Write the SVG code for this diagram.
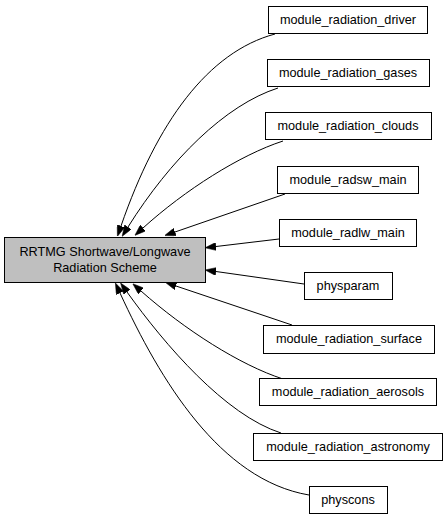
<svg xmlns="http://www.w3.org/2000/svg" width="448" height="520" viewBox="0 0 448 520">
<defs>
<marker id="ah" markerUnits="userSpaceOnUse" markerWidth="11" markerHeight="8" refX="0" refY="4" orient="auto">
<path d="M0,0 L11,4 L0,8 z" fill="#000" stroke="#000" stroke-width="0.5"/>
</marker>
<style>
.n rect{fill:#fff;stroke:#000;stroke-width:1}
.m rect{fill:#bfbfbf;stroke:#000;stroke-width:1}
text{font-family:"Liberation Sans",Arial,sans-serif;font-size:12.7px;fill:#000;text-anchor:middle}
.e path{fill:none;stroke:#000;stroke-width:1;marker-end:url(#ah)}
</style>
</defs>
<rect width="448" height="520" fill="#fff"/>
<g id="edges" class="e">
<path d="M275,34 C208,52 157,122 121,226"/>
<path d="M278,88 C225,105 170,160 128,227"/>
<path d="M283,141 C240,155 185,190 143,228"/>
<path d="M285,194 L175,232"/>
<path d="M279,239 L216,246.5"/>
<path d="M304,284 L216,271.5"/>
<path d="M292,325 L176,286"/>
<path d="M283,379 C240,365 185,330 141,291"/>
<path d="M281,433 C225,415 165,345 127,292"/>
<path d="M309,495 C220,480 160,380 120,293"/>
</g>
<g id="main" class="m"><rect x="4.5" y="237.5" width="201" height="45"/><text x="105" y="256">RRTMG Shortwave/Longwave</text><text x="105" y="272">Radiation Scheme</text></g>
<g id="driver" class="n"><rect x="268.5" y="6.5" width="159" height="27"/><text x="348" y="24">module_radiation_driver</text></g>
<g id="gases" class="n"><rect x="267.5" y="59.5" width="162" height="27"/><text x="348" y="77">module_radiation_gases</text></g>
<g id="clouds" class="n"><rect x="265.5" y="112.5" width="166" height="27"/><text x="348" y="130">module_radiation_clouds</text></g>
<g id="radsw" class="n"><rect x="277.5" y="166.5" width="141" height="27"/><text x="348" y="184">module_radsw_main</text></g>
<g id="radlw" class="n"><rect x="279.5" y="219.5" width="137" height="27"/><text x="348" y="237">module_radlw_main</text></g>
<g id="physparam" class="n"><rect x="304.5" y="272.5" width="88" height="27"/><text x="348" y="290">physparam</text></g>
<g id="surface" class="n"><rect x="263.5" y="325.5" width="171" height="28"/><text x="349" y="343">module_radiation_surface</text></g>
<g id="aerosols" class="n"><rect x="259.5" y="378.5" width="177" height="27"/><text x="348" y="396">module_radiation_aerosols</text></g>
<g id="astronomy" class="n"><rect x="253.5" y="433.5" width="189" height="27"/><text x="348" y="451">module_radiation_astronomy</text></g>
<g id="physcons" class="n"><rect x="309.5" y="486.5" width="78" height="27"/><text x="348" y="504">physcons</text></g>
</svg>
